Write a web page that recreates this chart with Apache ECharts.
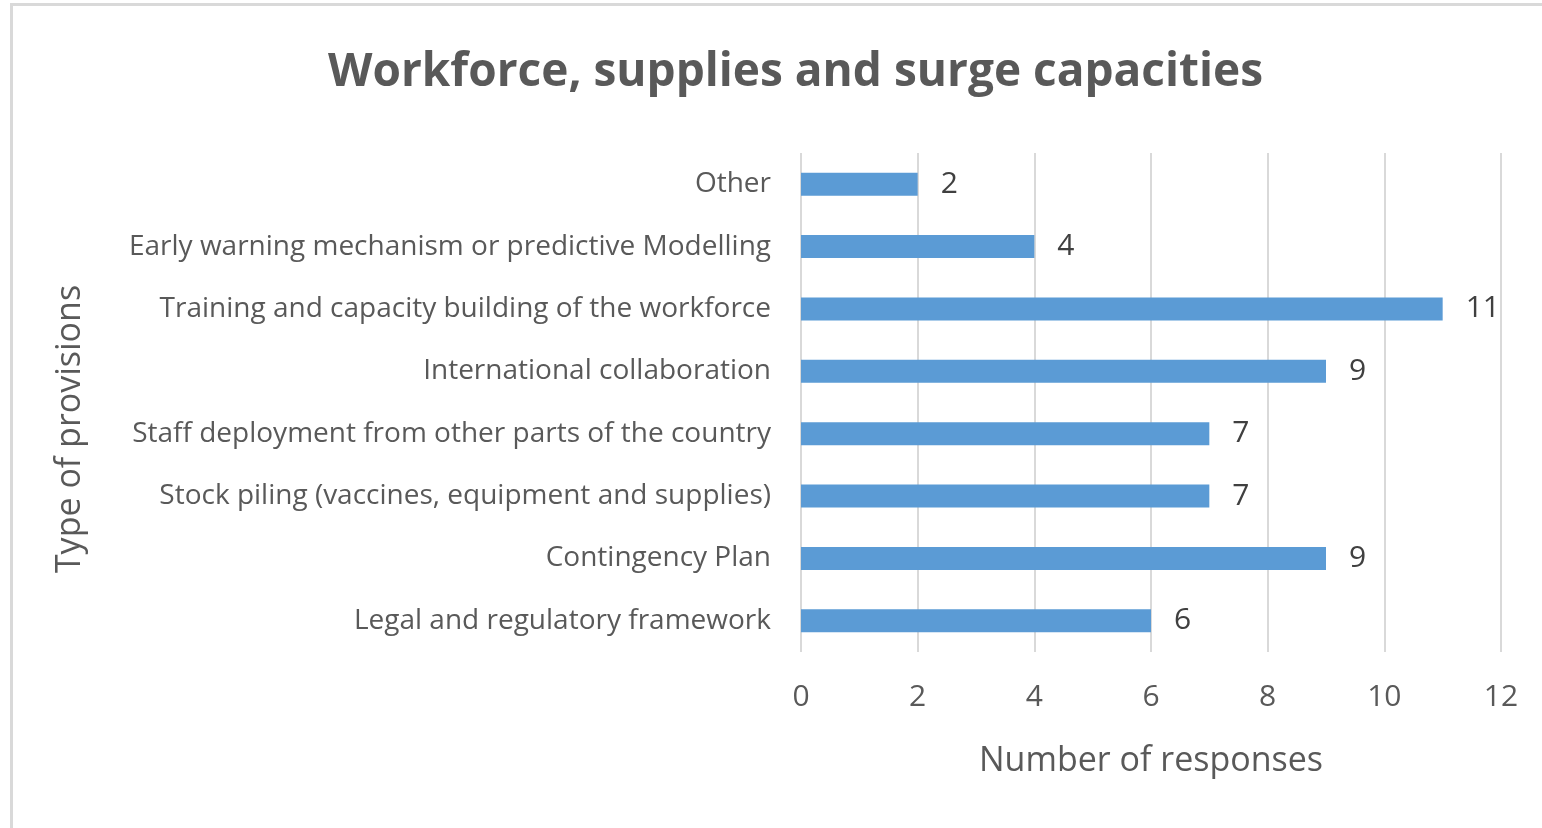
<!DOCTYPE html>
<html>
<head>
<meta charset="utf-8">
<script src="https://cdn.jsdelivr.net/npm/echarts@6/dist/echarts.min.js"></script>
<style>
  html, body { margin: 0; padding: 0; background: #fff; }
  #chart { width: 1542px; height: 828px; }
</style>
</head>
<body>
<div id="chart"></div>
<script>
// Provision types, listed bottom to top as they appear on the category axis
const categories = [
  'Legal and regulatory framework',
  'Contingency Plan',
  'Stock piling (vaccines, equipment and supplies)',
  'Staff deployment from other parts of the country',
  'International collaboration',
  'Training and capacity building of the workforce',
  'Early warning mechanism or predictive Modelling',
  'Other'
];
// Number of responses per provision type
const responses = [6, 9, 7, 7, 9, 11, 4, 2];
// Value-axis ticks
const xTicks = [0, 2, 4, 6, 8, 10, 12];

const FONT = 'Open Sans';
const TEXT = '#595959';
const chart = echarts.init(document.getElementById('chart'));
chart.setOption({
  backgroundColor: '#ffffff',
  animation: false,
  textStyle: { fontFamily: FONT },
  title: {
    text: 'Workforce, supplies and surge capacities',
    left: 323,
    top: 45,
    textStyle: { fontFamily: FONT, fontSize: 46, fontWeight: 'bold', color: TEXT }
  },
  graphic: [
    {
      // outer frame of the chart area
      type: 'rect',
      shape: { x: 11.5, y: 4.5, width: 1600, height: 900 },
      style: { fill: 'none', stroke: '#d9d9d9', lineWidth: 3 },
      silent: true
    },
    {
      // vertical axis title
      type: 'text',
      x: 70,
      y: 429,
      rotation: Math.PI / 2,
      style: {
        text: 'Type of provisions',
        fontFamily: FONT,
        fontSize: 34,
        fill: TEXT,
        align: 'center',
        verticalAlign: 'middle'
      },
      silent: true
    }
  ],
  grid: { left: 801, right: 41, top: 153, bottom: 176 },
  xAxis: {
    type: 'value',
    min: xTicks[0],
    max: xTicks[xTicks.length - 1],
    interval: xTicks[1] - xTicks[0],
    name: 'Number of responses',
    nameLocation: 'middle',
    nameGap: 92,
    nameTextStyle: { fontFamily: FONT, fontSize: 34, color: TEXT },
    axisLine: { show: false },
    axisTick: { show: false },
    axisLabel: { fontFamily: FONT, fontSize: 30, color: TEXT, margin: 30 },
    splitLine: { show: true, lineStyle: { color: '#d9d9d9', width: 2 } }
  },
  yAxis: {
    type: 'category',
    data: categories,
    axisLine: { show: false },
    axisTick: { show: false },
    axisLabel: { fontFamily: FONT, fontSize: 28, color: TEXT, margin: 30 }
  },
  series: [{
    type: 'bar',
    data: responses,
    barWidth: 23,
    itemStyle: { color: '#5b9bd5' },
    label: {
      show: true,
      position: 'right',
      distance: 23,
      fontFamily: FONT,
      fontSize: 30,
      color: '#404040'
    }
  }]
});
</script>
</body>
</html>
